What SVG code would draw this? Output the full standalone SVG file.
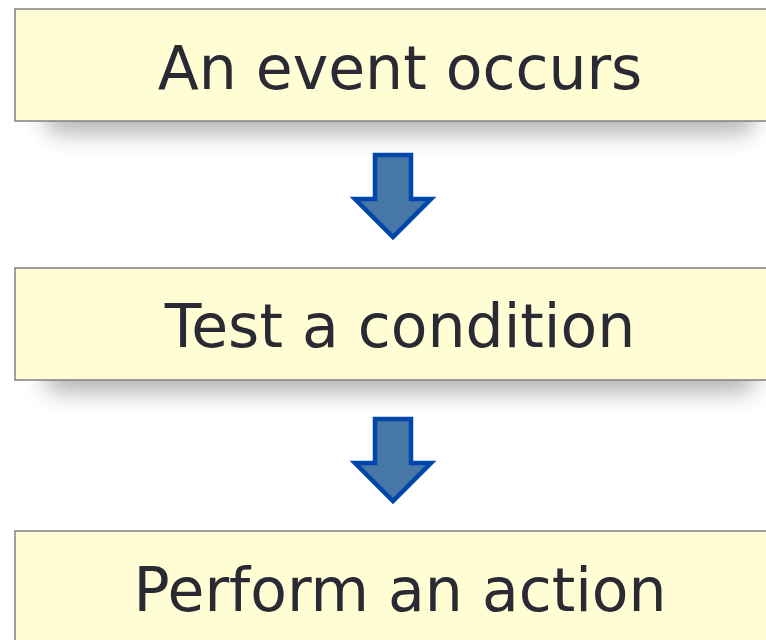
<svg xmlns="http://www.w3.org/2000/svg" width="766" height="640" viewBox="0 0 766 640">
<style>
.box{fill:#fffdd4;stroke:#808080;stroke-width:1.5}
.lbl{font-family:"DejaVu Sans",Verdana,sans-serif;font-size:60px;fill:#2a2a35;text-anchor:middle}
.arr{fill:#4677a6;stroke:#0047ab;stroke-width:4.5;stroke-linejoin:miter}
.sh{fill:#000;opacity:0.3;filter:url(#blur)}
</style>
<defs>
<filter id="blur" x="-20%" y="-80%" width="140%" height="260%"><feGaussianBlur stdDeviation="12"/></filter>
</defs>
<rect width="766" height="640" fill="#fff"/>
<g id="node1">
<rect class="sh" x="45" y="95" width="710" height="38" rx="14"/>
<rect class="box" x="15" y="9" width="770" height="112"/>
<text class="lbl" x="400" y="89">An event occurs</text>
</g>
<g id="node2">
<rect class="sh" x="45" y="354" width="710" height="38" rx="14"/>
<rect class="box" x="15" y="268" width="770" height="112"/>
<text class="lbl" x="400" y="347">Test a condition</text>
</g>
<g id="node3">
<rect class="box" x="15" y="531" width="770" height="140"/>
<text class="lbl" x="400" y="611">Perform an action</text>
</g>
<g id="connectors">
<path class="arr" d="M375 155 H411 V199 H431 L393 237 L355 199 H375 Z"/>
<path class="arr" d="M375 419 H411 V463 H431 L393 501 L355 463 H375 Z"/>
</g>
</svg>
